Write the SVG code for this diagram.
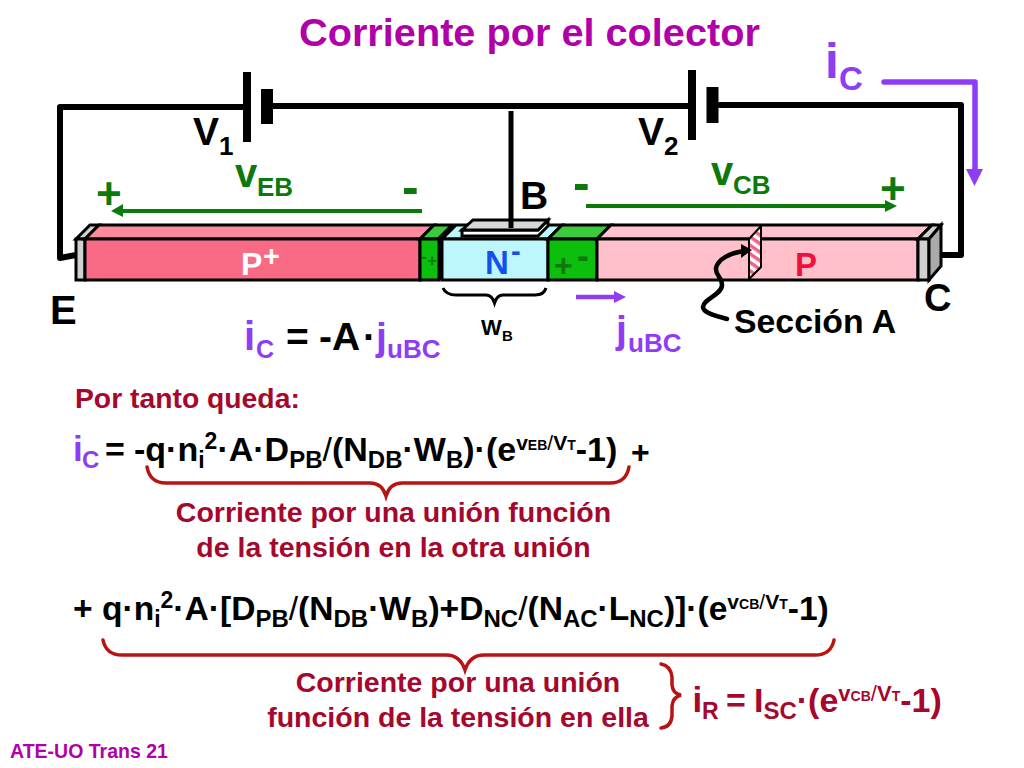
<svg xmlns="http://www.w3.org/2000/svg" width="1024" height="768" viewBox="0 0 1024 768">
<style>
text{font-family:"Liberation Sans",Arial,sans-serif;font-weight:bold;fill:#000}
.pu{fill:#8f3cf5}.gr{fill:#0b7a0b}.rd{fill:#a5082c}.mg{fill:#b000a8}
.w{fill:none;stroke:#000;stroke-width:6;stroke-linejoin:round;stroke-linecap:round}
.o{stroke:#000;stroke-width:3;stroke-linejoin:miter}
.br{fill:none;stroke:#b81414;stroke-width:3.5;stroke-linecap:round}
</style>
<defs>
<pattern id="h" width="7" height="7" patternUnits="userSpaceOnUse" patternTransform="rotate(35)"><rect width="7" height="7" fill="#fff"/><rect width="7" height="3.5" fill="#f0608a"/></pattern>
</defs>
<rect width="1024" height="768" fill="#fff"/>
<text id="title" x="299" y="46" font-size="39.7" class="mg">Corriente por el colector</text>

<g id="connectors">
<path class="w" d="M243 107H60V258L76 255"/>
<path class="w" d="M272 106H690"/>
<path class="w" d="M720 105H961V255H937"/>
<path d="M247 72V142M692 70V140" stroke="#000" stroke-width="8" fill="none"/>
<path d="M267 89V124M712.500 87V123" stroke="#000" stroke-width="12" fill="none"/>
<path d="M422 211H122" stroke="#0b7a0b" stroke-width="4" fill="none"/>
<path d="M123 204V217L111 211z" fill="#0b7a0b"/>
<path d="M586 206H886" stroke="#0b7a0b" stroke-width="4" fill="none"/>
<path d="M885 200V212L897 206z" fill="#0b7a0b"/>
<path d="M884 82H975V172" stroke="#8f3cf5" stroke-width="5.500" fill="none" stroke-linecap="round" stroke-linejoin="round"/>
<path d="M966 169H983L974.500 186z" fill="#8f3cf5"/>
<path d="M576 297H614" stroke="#8f3cf5" stroke-width="4.500" fill="none"/>
<path d="M614 291V303L626 297z" fill="#8f3cf5"/>
</g>

<g id="device">
<path class="o" fill="#d0d0d0" d="M76 239L90 225H99L85 239z"/>
<rect class="o" x="76" y="239" width="9" height="41" fill="#d0d0d0"/>
<path class="o" fill="#ff8a9e" d="M85 239L99 225H434L420 239z"/>
<rect id="pplus" class="o" x="85" y="239" width="335" height="41" fill="#f96a84"/>
<path class="o" fill="#3ccb3c" d="M420 239L434 225H452L438 239z"/>
<rect class="o" x="420" y="239" width="19" height="41" fill="#0cbf0c"/>
<path d="M438 239L452 225H456L442 239V280H438z" fill="#000"/>
<path class="o" fill="#bdf6fb" d="M442 239L456 225H562L548 239z"/>
<rect id="nbase" class="o" x="442" y="239" width="106" height="41" fill="#bdf6fb"/>
<path class="o" fill="#3ccb3c" d="M548 239L562 225H611L597 239z"/>
<rect class="o" x="548" y="239" width="49" height="41" fill="#0cbf0c"/>
<path class="o" fill="#ffc4ce" d="M597 239L611 225H932L918 239z"/>
<rect id="pcol" class="o" x="597" y="239" width="321" height="41" fill="#ffc0cb"/>
<path class="o" fill="#d0d0d0" d="M918 239L932 225H941L929 239z"/>
<rect class="o" x="918" y="239" width="11" height="41" fill="#d0d0d0"/>
<path class="o" fill="#aaa" d="M929 239L941 225V266L929 280z"/>
<path class="o" fill="#fff" d="M462 236V230L538 230L548 220V226L538 236z"/>
<path class="o" fill="#d8d8d8" d="M462 230L473 220H548L538 230z"/>
<path fill="url(#h)" stroke="#000" stroke-width="2" d="M749 239L761 226V267L749 279z"/>
<path d="M511 111V228" stroke="#000" stroke-width="5"/>
</g>

<g id="labels">
<text x="241" y="275" font-size="32" style="fill:#fff">P</text>
<text x="263" y="266" font-size="29" style="fill:#fff">+</text>
<text x="485" y="274" font-size="33" style="fill:#1450f0">N</text>
<text x="511" y="261" font-size="29" style="fill:#1450f0">-</text>
<text x="795" y="276" font-size="33" style="fill:#f0103c">P</text>
<text x="421" y="263" font-size="18" class="gr">-</text><text x="427.500" y="266" font-size="16" class="gr">+</text>
<text x="554" y="276" font-size="32" class="gr">+</text><text x="577" y="268" font-size="36" class="gr">-</text>
<text x="193" y="145" font-size="39">V</text><text x="219" y="155" font-size="26">1</text>
<text x="638" y="145" font-size="39">V</text><text x="664" y="155" font-size="26">2</text>
<text x="235" y="187" font-size="40" class="gr">v</text><text x="257" y="196" font-size="26" class="gr">EB</text>
<text x="711" y="185" font-size="40" class="gr">v</text><text x="733" y="194" font-size="26" class="gr">CB</text>
<text x="96" y="209" font-size="44" class="gr">+</text>
<text x="402" y="204" font-size="50" class="gr">-</text>
<text x="573" y="200" font-size="50" class="gr">-</text>
<text x="880" y="204" font-size="44" class="gr">+</text>
<text x="520" y="209" font-size="39">B</text>
<text x="50" y="324" font-size="40">E</text>
<text x="924" y="311" font-size="38">C</text>
<text x="734" y="333" font-size="33.800">Sección A</text>
<text x="481" y="335" font-size="22">W</text><text x="502" y="341" font-size="15">B</text>
<text x="825" y="78" font-size="50" class="pu">i</text><text x="839" y="90" font-size="33" class="pu">C</text>
<text x="244" y="350" font-size="40" class="pu">i</text><text x="256" y="358" font-size="25" class="pu">C</text>
<text x="286" y="350" font-size="39">=</text><text x="319" y="350" font-size="39">-A</text><text x="363" y="350" font-size="39">·</text>
<text x="376" y="350" font-size="39" class="pu">j</text><text x="387" y="358" font-size="26" class="pu">uBC</text>
<text x="616" y="343" font-size="39" class="pu">j</text><text x="628" y="352" font-size="26" class="pu">uBC</text>
<path class="w" style="stroke-width:4.500" d="M727 319C712 315 703 312 703 307C704 298 722 295 722 285C722 277 715 275 716 268C718 259 730 253 744 251"/>
<path d="M741 244L752 250L741 258z"/>
<path d="M443 288Q446 295 456 295H486Q492 295 494.500 303Q497 295 503 295H535Q544 295 546 288" fill="none" stroke="#000" stroke-width="3"/>
</g>

<g id="equations">
<text x="75" y="408" font-size="28.300" class="rd">Por tanto queda:</text>
<text x="73" y="461" font-size="35" class="pu">i</text><text x="82" y="468" font-size="24" class="pu">C</text>
<text x="105" y="461" font-size="34">=</text>
<text x="134" y="461" font-size="34">-q·n<tspan font-size="23" dy="7">i</tspan><tspan font-size="23" dy="-19">2</tspan><tspan dy="12">·A·D</tspan><tspan font-size="24" dy="7">PB</tspan><tspan dy="-7" font-weight="normal">/</tspan><tspan>(N</tspan><tspan font-size="24" dy="7">DB</tspan><tspan dy="-7">·W</tspan><tspan font-size="24" dy="7">B</tspan><tspan dy="-7">)·(e</tspan><tspan font-size="21" dy="-11">v</tspan><tspan font-size="14">EB</tspan><tspan font-size="21" font-weight="normal">/</tspan><tspan font-size="21">V</tspan><tspan font-size="14">T</tspan><tspan dy="11">-1)</tspan></text>
<text x="631" y="463" font-size="32">+</text>
<path class="br" d="M147 467Q150 483 166 483H370Q382 483 386 496Q390 483 402 483H610Q626 483 629 467"/>
<text x="393.500" y="522" font-size="28.500" text-anchor="middle" class="rd">Corriente por una unión función</text>
<text x="393.500" y="557" font-size="28.500" text-anchor="middle" class="rd">de la tensión en la otra unión</text>
<text x="73" y="620" font-size="33.600">+ q·n<tspan font-size="23" dy="7">i</tspan><tspan font-size="23" dy="-19">2</tspan><tspan dy="12">·A·[D</tspan><tspan font-size="24" dy="7">PB</tspan><tspan dy="-7" font-weight="normal">/</tspan><tspan>(N</tspan><tspan font-size="24" dy="7">DB</tspan><tspan dy="-7">·W</tspan><tspan font-size="24" dy="7">B</tspan><tspan dy="-7">)+D</tspan><tspan font-size="24" dy="7">NC</tspan><tspan dy="-7" font-weight="normal">/</tspan><tspan>(N</tspan><tspan font-size="24" dy="7">AC</tspan><tspan dy="-7">·L</tspan><tspan font-size="24" dy="7">NC</tspan><tspan dy="-7">)]·(e</tspan><tspan font-size="21" dy="-11">v</tspan><tspan font-size="14">CB</tspan><tspan font-size="21" font-weight="normal">/</tspan><tspan font-size="21">V</tspan><tspan font-size="14">T</tspan><tspan dy="11">-1)</tspan></text>
<path class="br" d="M103 640Q106 655 122 655H446Q460 655 465 670Q470 655 484 655H815Q831 655 834 640"/>
<text x="458" y="692" font-size="28.500" text-anchor="middle" class="rd">Corriente por una unión</text>
<text x="458" y="727" font-size="28.500" text-anchor="middle" class="rd">función de la tensión en ella</text>
<path class="br" d="M661 664Q671 666 672 677V685Q673 694 681 695Q673 697 672 706V716Q671 727 661 728"/>
<text x="692.500" y="712" font-size="35" class="rd">i</text><text x="702" y="719" font-size="23" class="rd">R</text>
<text x="726" y="712" font-size="34" class="rd">=</text>
<text x="754" y="712" font-size="34" class="rd">I<tspan font-size="24" dy="7">SC</tspan><tspan dy="-7">·(e</tspan><tspan font-size="22" dy="-11">v</tspan><tspan font-size="14">CB</tspan><tspan font-size="22" font-weight="normal">/</tspan><tspan font-size="22">V</tspan><tspan font-size="14">T</tspan><tspan dy="11">-1)</tspan></text>
<text x="10" y="758" font-size="19.500" class="mg">ATE-UO Trans 21</text>
</g>
</svg>
